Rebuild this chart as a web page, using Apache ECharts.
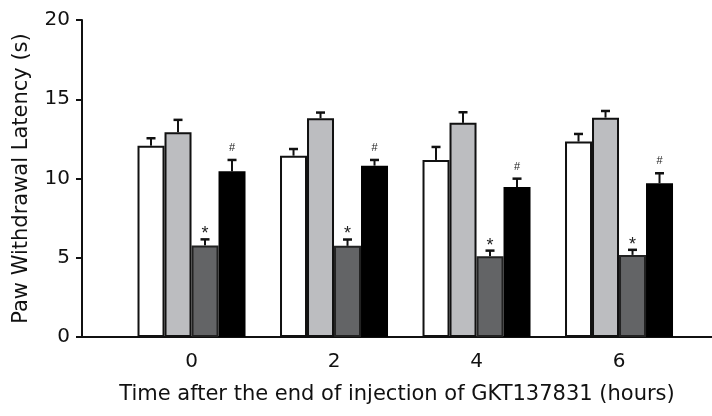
<!DOCTYPE html>
<html>
<head>
<meta charset="utf-8">
<script src="https://cdn.jsdelivr.net/npm/echarts@6/dist/echarts.min.js"></script>
<style>html,body{margin:0;padding:0;background:#fff;}#chart{width:712px;height:416px;}</style>
</head>
<body>
<div id="chart"></div>
<script>
// ---- data ----
const categories = [0, 2, 4, 6];
const xTickLabels = [0, 2, 4, 6];
const yTicks = [0, 5, 10, 15, 20];
const whiteValues = [12.07, 11.44, 11.17, 12.33];
const whiteErrors = [0.47, 0.42, 0.82, 0.48];
const lightValues = [12.92, 13.80, 13.51, 13.84];
const lightErrors = [0.78, 0.36, 0.67, 0.42];
const darkValues = [5.78, 5.75, 5.10, 5.18];
const darkErrors = [0.38, 0.40, 0.35, 0.32];
const blackValues = [10.45, 10.81, 9.46, 9.70];
const blackErrors = [0.72, 0.36, 0.53, 0.63];
const darkMarks = ['*', '*', '*', '*'];
const blackMarks = ['#', '#', '#', '#'];

// ---- styling ----
const FONT = '"DejaVu Sans", sans-serif';
const MARK_FONT = '"Liberation Sans", Arial, sans-serif';
const BAR_W = 27;
const N = 4;
function offsetOf(k) { return (k - (N - 1) / 2) * BAR_W; }

const groups = [
  { name: 'Group 1', values: whiteValues, errors: whiteErrors, color: '#ffffff', border: '#111', marks: null },
  { name: 'Group 2', values: lightValues, errors: lightErrors, color: '#bcbdc0', border: '#111', marks: null },
  { name: 'Group 3', values: darkValues, errors: darkErrors, color: '#636466', border: '#222', marks: darkMarks, markType: 'star' },
  { name: 'Group 4', values: blackValues, errors: blackErrors, color: '#000000', border: '#000', marks: blackMarks, markType: 'hash' }
];

const series = [];
groups.forEach((g, k) => {
  series.push({
    name: g.name,
    type: 'bar',
    barWidth: BAR_W,
    barGap: '0%',
    itemStyle: { color: g.color, borderColor: g.border, borderWidth: 2 },
    data: categories.map((c, i) => [c, g.values[i]]),
    z: 2
  });
});
groups.forEach((g, k) => {
  const off = offsetOf(k);
  series.push({
    name: g.name + ' error',
    type: 'custom',
    z: 5,
    silent: true,
    data: categories.map((c, i) => [c, g.values[i], g.errors[i], i]),
    renderItem: function (params, api) {
      const x = api.value(0), v = api.value(1), e = api.value(2), idx = api.value(3);
      const base = api.coord([x, v]);
      const top = api.coord([x, v + e]);
      const cx = base[0] + off;
      const children = [
        { type: 'line', shape: { x1: cx, y1: base[1], x2: cx, y2: top[1] }, style: { stroke: '#111', lineWidth: 2 } },
        { type: 'line', shape: { x1: cx - 4.5, y1: top[1], x2: cx + 4.5, y2: top[1] }, style: { stroke: '#111', lineWidth: 2.5 } }
      ];
      if (g.marks) {
        const isStar = g.markType === 'star';
        children.push({
          type: 'text',
          style: {
            text: g.marks[idx],
            x: cx,
            y: isStar ? top[1] + 4 : top[1] - 12,
            align: 'center',
            verticalAlign: isStar ? 'bottom' : 'middle',
            font: isStar ? '18px ' + MARK_FONT : '11px ' + MARK_FONT,
            fill: '#222'
          }
        });
      }
      return { type: 'group', children: children };
    }
  });
});

const chart = echarts.init(document.getElementById('chart'), null, { renderer: 'canvas' });
chart.setOption({
  animation: false,
  backgroundColor: '#fff',
  grid: { left: 82, right: 0, top: 20, bottom: 79, containLabel: false },
  xAxis: {
    type: 'value',
    min: -1.537,
    max: 7.305,
    splitLine: { show: false },
    axisLine: { show: true, onZero: false, lineStyle: { color: '#111', width: 2 } },
    axisTick: { show: false },
    axisLabel: {
      customValues: xTickLabels,
      margin: 15,
      fontSize: 20,
      fontFamily: FONT,
      color: '#111'
    },
    name: 'Time after the end of injection of GKT137831 (hours)',
    nameLocation: 'middle',
    nameGap: 47,
    nameTextStyle: { fontSize: 21, fontFamily: FONT, color: '#111' }
  },
  yAxis: {
    type: 'value',
    min: 0,
    max: 20,
    interval: 5,
    splitLine: { show: false },
    axisLine: { show: true, onZero: false, lineStyle: { color: '#111', width: 2 } },
    axisTick: { show: true, length: 6, inside: false, lineStyle: { color: '#111', width: 2 } },
    axisLabel: {
      margin: 12,
      fontSize: 20,
      fontFamily: FONT,
      color: '#111',
      customValues: yTicks
    },
    name: 'Paw Withdrawal Latency (s)',
    nameLocation: 'middle',
    nameGap: 50,
    nameTextStyle: { fontSize: 21, fontFamily: FONT, color: '#111' }
  },
  series: series
});
</script>
</body>
</html>
